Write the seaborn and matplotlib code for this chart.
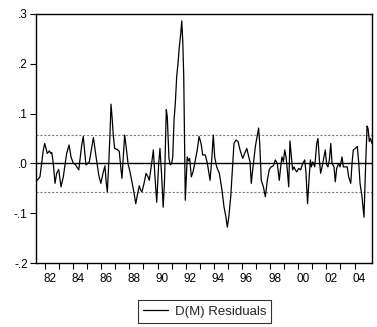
import numpy as np
import pandas as pd
import matplotlib
matplotlib.use("Agg")
import matplotlib.pyplot as plt
import matplotlib.ticker as mticker
import matplotlib.transforms as mtransforms
import seaborn as sns

# Residual series (date as fractional year, value)
dates = [
    1981.36, 1981.64, 1981.88, 1981.98, 1982.16, 1982.31, 1982.41, 1982.48, 1982.59, 1982.71,
    1982.83, 1982.97, 1983.14, 1983.30, 1983.54, 1983.71, 1983.85, 1984.01, 1984.15, 1984.40,
    1984.61, 1984.72, 1984.91, 1985.03, 1985.15, 1985.44, 1985.62, 1985.83, 1985.97, 1986.12,
    1986.26, 1986.34, 1986.43, 1986.53, 1986.62, 1986.69, 1986.76, 1986.85, 1986.95, 1987.14,
    1987.28, 1987.38, 1987.47, 1987.54, 1987.66, 1987.78, 1987.90, 1988.04, 1988.18, 1988.33,
    1988.45, 1988.56, 1988.70, 1988.80, 1988.89, 1989.04, 1989.18, 1989.32, 1989.41, 1989.58,
    1989.70, 1989.80, 1989.94, 1990.08, 1990.17, 1990.28, 1990.40, 1990.50, 1990.62, 1990.69,
    1990.81, 1990.90, 1991.00, 1991.08, 1991.17, 1991.26, 1991.36, 1991.45, 1991.55, 1991.64,
    1991.72, 1991.79, 1991.86, 1991.91, 1991.97, 1992.11, 1992.20, 1992.28, 1992.40, 1992.52,
    1992.64, 1992.82, 1992.95, 1993.09, 1993.21, 1993.39, 1993.54, 1993.73, 1993.85, 1993.96,
    1994.06, 1994.20, 1994.39, 1994.58, 1994.72, 1994.86, 1994.96, 1995.06, 1995.20, 1995.34,
    1995.43, 1995.57, 1995.72, 1995.86, 1996.05, 1996.19, 1996.34, 1996.48, 1996.57, 1996.66,
    1996.76, 1996.95, 1997.18, 1997.26, 1997.37, 1997.52, 1997.66, 1997.80, 1997.94, 1998.08,
    1998.23, 1998.37, 1998.51, 1998.65, 1998.75, 1998.84, 1998.94, 1999.04, 1999.13, 1999.22,
    1999.32, 1999.41, 1999.51, 1999.60, 1999.70, 1999.79, 1999.89, 2000.03, 2000.17, 2000.32,
    2000.46, 2000.55, 2000.66, 2000.76, 2000.86, 2000.93, 2001.03, 2001.17, 2001.31, 2001.40,
    2001.50, 2001.59, 2001.69, 2001.83, 2001.92, 2002.02, 2002.11, 2002.21, 2002.31, 2002.40,
    2002.54, 2002.63, 2002.73, 2002.87, 2002.97, 2003.11, 2003.20, 2003.34, 2003.48, 2003.58,
    2003.73, 2003.82, 2003.91, 2004.05, 2004.20, 2004.30, 2004.39, 2004.53, 2004.67, 2004.78,
    2004.89, 2004.96, 2005.05, 2005.13, 2005.24,
]
residuals = [
    -0.037, -0.027, 0.027, 0.040, 0.020, 0.025, 0.020, 0.022, 0.000, -0.040,
    -0.020, -0.012, -0.047, -0.027, 0.020, 0.037, 0.013, 0.000, -0.002, -0.013,
    0.037, 0.054, -0.003, 0.000, 0.003, 0.052, 0.015, -0.025, -0.040, -0.020,
    -0.005, -0.035, -0.057, 0.000, 0.060, 0.119, 0.095, 0.057, 0.030, 0.028,
    0.024, -0.007, -0.030, 0.003, 0.057, 0.030, 0.000, -0.017, -0.037, -0.060,
    -0.081, -0.064, -0.045, -0.054, -0.057, -0.040, -0.020, -0.027, -0.034, 0.000,
    0.027, -0.020, -0.078, 0.000, 0.030, -0.020, -0.088, -0.030, 0.108, 0.094,
    0.010, -0.003, 0.000, 0.013, 0.087, 0.120, 0.175, 0.200, 0.235, 0.259,
    0.286, 0.245, 0.175, 0.057, -0.074, 0.013, 0.005, 0.010, -0.027, -0.017,
    0.000, 0.027, 0.054, 0.040, 0.017, 0.017, 0.000, -0.034, 0.007, 0.057,
    0.013, -0.007, -0.020, -0.054, -0.087, -0.108, -0.128, -0.108, -0.067, 0.000,
    0.040, 0.047, 0.044, 0.027, 0.010, 0.020, 0.030, 0.013, 0.003, -0.040,
    -0.013, 0.034, 0.071, 0.040, -0.034, -0.047, -0.067, -0.034, -0.012, -0.007,
    -0.005, 0.007, 0.000, -0.034, -0.007, 0.013, 0.003, 0.027, 0.013, -0.013,
    -0.047, 0.045, 0.013, -0.013, -0.007, -0.013, -0.017, -0.010, -0.013, 0.000,
    0.007, -0.020, -0.081, -0.034, 0.007, -0.007, 0.003, -0.007, 0.040, 0.050,
    0.007, -0.020, -0.007, 0.013, 0.027, -0.003, -0.007, 0.007, 0.040, 0.000,
    -0.007, -0.037, -0.010, 0.000, -0.007, 0.013, -0.007, -0.007, -0.007, -0.027,
    -0.040, 0.000, 0.027, 0.030, 0.034, 0.000, -0.040, -0.067, -0.108, -0.010,
    0.075, 0.070, 0.044, 0.050, 0.040,
]
band = 0.057  # dotted reference lines
years = list(range(1982, 2005))
year_labels = [str(y)[2:] if y % 2 == 0 else "" for y in years]
y_ticks = [-0.2, -0.1, 0.0, 0.1, 0.2, 0.3]

df = pd.DataFrame({"date": dates, "resid": residuals})

sns.set_style("white")
plt.rcParams["font.family"] = ["Liberation Sans", "DejaVu Sans"]

fig = plt.figure(figsize=(3.77, 3.27), dpi=100)
ax = fig.add_axes([36 / 377, 64 / 327, 336 / 377, 249 / 327])

sns.lineplot(data=df, x="date", y="resid", ax=ax, color="black", linewidth=0.9,
             estimator=None, sort=False, label="D(M) Residuals", legend=False)

ax.axhline(0, color="black", linewidth=1.0, zorder=1)
ax.axhline(band, color="#808080", linewidth=0.8, linestyle=(0, (2, 1.5)), zorder=1)
ax.axhline(-band, color="#808080", linewidth=0.8, linestyle=(0, (2, 1.5)), zorder=1)

ax.set_xlim(dates[0], dates[-1])
ax.set_ylim(-0.2, 0.3)
ax.set_xticks(years)
ax.set_xticklabels(year_labels)
ax.set_yticks(y_ticks)
ax.yaxis.set_major_formatter(mticker.FuncFormatter(
    lambda v, p: ("-" if v < -1e-9 else "") + ("%.1f" % abs(v)).lstrip("0")))
ax.set_xlabel("")
ax.set_ylabel("")

ax.tick_params(axis="both", direction="out", length=4, width=0.8, colors="black",
               labelsize=8.5, left=True, bottom=True)
ax.tick_params(axis="x", pad=3)
ax.tick_params(axis="y", pad=2)
for lab in ax.get_xticklabels():
    lab.set_transform(lab.get_transform() +
                      mtransforms.ScaledTranslation(4.5 / 100, 0, fig.dpi_scale_trans))

for s in ax.spines.values():
    s.set_color("black")
    s.set_linewidth(1.0)

handles, labels = ax.get_legend_handles_labels()
leg = fig.legend(handles, labels, loc="center", bbox_to_anchor=(204.5 / 377, 15.5 / 327),
                 fontsize=9.5, frameon=True, fancybox=False, handlelength=1.9,
                 borderpad=0.4, handletextpad=0.5, borderaxespad=0)
leg.get_frame().set_edgecolor("black")
leg.get_frame().set_linewidth(0.8)

fig.savefig("out.png", dpi=100)
